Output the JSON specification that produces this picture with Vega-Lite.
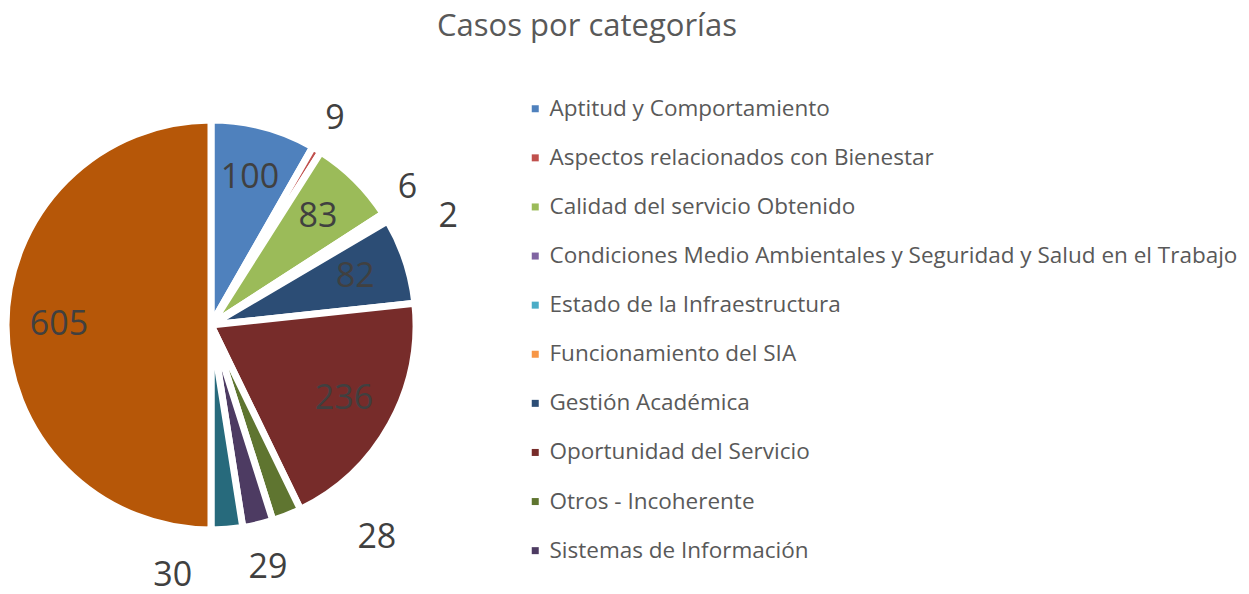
{
  "$schema": "https://vega.github.io/schema/vega-lite/v6.json",
  "autosize": {"type": "none"},
  "width": 422,
  "height": 440,
  "padding": {"left": 0, "top": 105, "right": 827, "bottom": 49},
  "background": "white",
  "title": {
    "text": "Casos por categorías",
    "fontSize": 31,
    "font": "Open Sans",
    "fontWeight": "normal",
    "color": "#595959",
    "anchor": "middle",
    "frame": "group",
    "dx": 376,
    "offset": 23
  },
  "data": {
    "values": [
      {"categoria": "Aptitud y Comportamiento", "casos": 100, "orden": 1},
      {"categoria": "Aspectos relacionados con Bienestar", "casos": 9, "orden": 2},
      {"categoria": "Calidad del servicio Obtenido", "casos": 83, "orden": 3},
      {"categoria": "Condiciones Medio Ambientales y Seguridad y Salud en el Trabajo", "casos": 6, "orden": 4},
      {"categoria": "Estado de la Infraestructura", "casos": 2, "orden": 5},
      {"categoria": "Funcionamiento del SIA", "casos": 0, "orden": 6},
      {"categoria": "Gestión Académica", "casos": 82, "orden": 7},
      {"categoria": "Oportunidad del Servicio", "casos": 236, "orden": 8},
      {"categoria": "Otros - Incoherente", "casos": 28, "orden": 9},
      {"categoria": "Sistemas de Información", "casos": 29, "orden": 10},
      {"categoria": "Categoría 11", "casos": 30, "orden": 11},
      {"categoria": "Categoría 12", "casos": 605, "orden": 12}
    ]
  },
  "encoding": {
    "theta": {"field": "casos", "type": "quantitative", "stack": true},
    "order": {"field": "orden", "type": "quantitative"}
  },
  "layer": [
    {
      "mark": {"type": "arc", "outerRadius": 205, "stroke": "white", "strokeWidth": 7, "strokeJoin": "round"},
      "encoding": {
        "color": {
          "field": "categoria",
          "type": "nominal",
          "scale": {
            "domain": ["Aptitud y Comportamiento", "Aspectos relacionados con Bienestar", "Calidad del servicio Obtenido", "Condiciones Medio Ambientales y Seguridad y Salud en el Trabajo", "Estado de la Infraestructura", "Funcionamiento del SIA", "Gestión Académica", "Oportunidad del Servicio", "Otros - Incoherente", "Sistemas de Información", "Categoría 11", "Categoría 12"],
            "range": ["#4F81BD", "#C0504D", "#9BBB59", "#8064A2", "#4BACC6", "#F79646", "#2C4D75", "#772C2A", "#5F7530", "#4D3B62", "#276A7C", "#B65708"]
          },
          "legend": {
            "values": ["Aptitud y Comportamiento", "Aspectos relacionados con Bienestar", "Calidad del servicio Obtenido", "Condiciones Medio Ambientales y Seguridad y Salud en el Trabajo", "Estado de la Infraestructura", "Funcionamiento del SIA", "Gestión Académica", "Oportunidad del Servicio", "Otros - Incoherente", "Sistemas de Información"],
            "title": null,
            "orient": "none",
            "legendX": 524,
            "legendY": -7.5,
            "symbolType": "square",
            "symbolSize": 49,
            "symbolStrokeWidth": 0,
            "labelFont": "Open Sans",
            "labelFontSize": 22.5,
            "labelColor": "#595959",
            "labelLimit": 900,
            "labelOffset": 3,
            "rowPadding": 26.1
          }
        }
      }
    },
    {
      "mark": {"type": "text", "radius": 152, "font": "Open Sans", "fontSize": 34, "color": "#404040"},
      "encoding": {
        "text": {"condition": {"test": "datum.casos >= 50", "field": "casos", "type": "quantitative"}, "value": ""}
      }
    },
    {
      "mark": {"type": "text", "radius": 240, "font": "Open Sans", "fontSize": 34, "color": "#404040"},
      "encoding": {
        "text": {"condition": {"test": "datum.orden == 2", "field": "casos", "type": "quantitative"}, "value": ""}
      }
    },
    {
      "mark": {"type": "text", "radius": 240, "font": "Open Sans", "fontSize": 34, "color": "#404040", "dx": -7, "dy": -10},
      "encoding": {
        "text": {"condition": {"test": "datum.orden == 4", "field": "casos", "type": "quantitative"}, "value": ""}
      }
    },
    {
      "mark": {"type": "text", "radius": 240, "font": "Open Sans", "fontSize": 34, "color": "#404040", "dx": 31, "dy": 15},
      "encoding": {
        "text": {"condition": {"test": "datum.orden == 5", "field": "casos", "type": "quantitative"}, "value": ""}
      }
    },
    {
      "mark": {"type": "text", "radius": 240, "font": "Open Sans", "fontSize": 34, "color": "#404040", "dx": 77, "dy": -10},
      "encoding": {
        "text": {"condition": {"test": "datum.orden == 9", "field": "casos", "type": "quantitative"}, "value": ""}
      }
    },
    {
      "mark": {"type": "text", "radius": 240, "font": "Open Sans", "fontSize": 34, "color": "#404040", "dx": 2, "dy": 9},
      "encoding": {
        "text": {"condition": {"test": "datum.orden == 10", "field": "casos", "type": "quantitative"}, "value": ""}
      }
    },
    {
      "mark": {"type": "text", "radius": 240, "font": "Open Sans", "fontSize": 34, "color": "#404040", "dx": -57, "dy": 12},
      "encoding": {
        "text": {"condition": {"test": "datum.orden == 11", "field": "casos", "type": "quantitative"}, "value": ""}
      }
    }
  ],
  "config": {"view": {"stroke": null}}
}
